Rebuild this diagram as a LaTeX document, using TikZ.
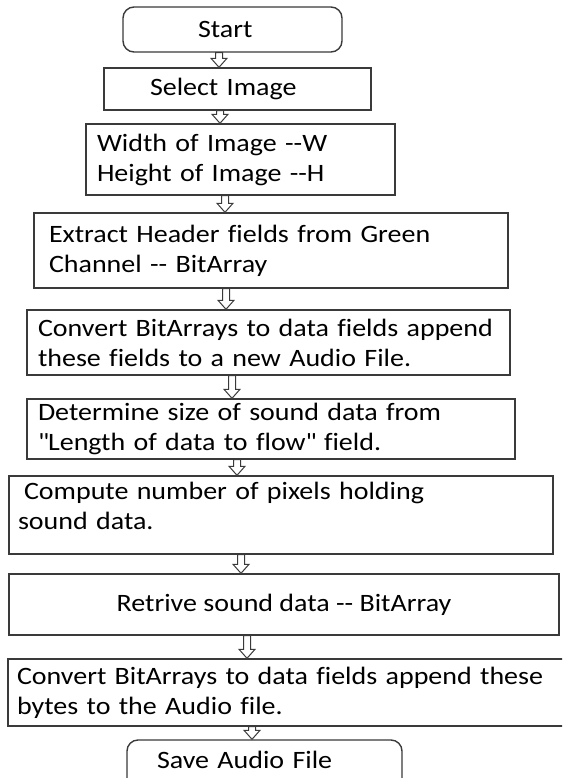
\documentclass[tikz,border=0pt]{standalone}
\usepackage{fontspec}
\setmainfont[FakeStretch=1.12, Ligatures=NoCommon]{Carlito}
\usetikzlibrary{calc}
\definecolor{linec}{HTML}{3A3A3A}
\newcommand{\dd}{-{}-}
% straight double quote, taken as a glyph so no font mapping curls it
\newcommand{\qt}{\XeTeXglyph\XeTeXcharglyph"22\relax}
\tikzset{
  box/.style={draw=linec, line width=1.4pt, inner sep=0pt, fill=white,
    font=\fontsize{25}{30}\selectfont, text=black, align=left},
  term/.style={box, rounded corners=11pt},
  hollow/.style={draw=linec, line width=1pt, fill=white, line join=miter,
    to path={let \p1=(\tikztostart), \p2=(\tikztotarget) in
      (\x1-3.5pt,\y1) -- (\x1-3.5pt,\y2+9pt) -- (\x1-8pt,\y2+9pt) -- (\x1,\y2)
      -- (\x1+8pt,\y2+9pt) -- (\x1+3.5pt,\y2+9pt) -- (\x1+3.5pt,\y1) -- cycle}}
}
\begin{document}
\begin{tikzpicture}[x=1pt,y=-1pt]
\useasboundingbox (0,0) rectangle (562,778);
\clip (0,0) rectangle (562,778);

% process boxes, top to bottom
\node[term, minimum width=219pt, minimum height=45pt, text width=69pt]
  (start) at (232.5,29.5) {\mbox{Start}};
\node[box, minimum width=267pt, minimum height=42pt, text width=175pt]
  (select) at (237.5,89) {\mbox{Select Image}};
\node[box, minimum width=309pt, minimum height=71pt, text width=287pt]
  (wh) at (240.5,159.5) {\mbox{Width of Image \dd W}\\\mbox{Height of Image \dd H}};
\node[box, minimum width=474pt, minimum height=75pt, text width=444pt]
  (extract) at (271,250.5) {\mbox{Extract Header fields from Green}\\\mbox{Channel \dd{} BitArray}};
\node[box, minimum width=483pt, minimum height=65pt, text width=461pt]
  (conv1) at (268.5,342.5) {\mbox{Convert BitArrays to data fields append}\\\mbox{these fields to a new Audio File.}};
\node[box, minimum width=488pt, minimum height=60pt, text width=466pt]
  (determine) at (271,429) {\mbox{Determine size of sound data from}\\\mbox{\qt Length of data to flow\qt{} field.}};
\node[box, minimum width=544pt, minimum height=78pt, text width=526pt]
  (compute) at (281,515) {\mbox{\hspace{6pt}Compute number of pixels holding}\\\mbox{sound data.}\par\vspace{18pt}};
\node[box, minimum width=550pt, minimum height=61pt, align=center]
  (retrieve) at (284,604.5) {Retrive sound data \dd{} BitArray};
\node[box, minimum width=572pt, minimum height=67pt, text width=554pt]
  (conv2) at (294,692.5) {\mbox{Convert BitArrays to data fields append these}\\\mbox{bytes to the Audio file.}};
\node[term, minimum width=275pt, minimum height=60pt, text width=215pt]
  (save) at (264.5,770) {\mbox{Save Audio File}\par\vspace{20pt}};

% hollow block arrows between the steps
\draw[hollow] (start.south -| 219,0) to (select.north -| 219,0);
\draw[hollow] (select.south -| 220,0) to (wh.north -| 220,0);
\draw[hollow] (wh.south -| 225,0) to (extract.north -| 225,0);
\draw[hollow] (extract.south -| 226,0) to (conv1.north -| 226,0);
\draw[hollow] (conv1.south -| 232,0) to (determine.north -| 232,0);
\draw[hollow] (determine.south -| 237,0) to (compute.north -| 237,0);
\draw[hollow] (compute.south -| 241,0) to (retrieve.north -| 241,0);
\draw[hollow] (retrieve.south -| 247,0) to (conv2.north -| 247,0);
\draw[hollow] (conv2.south -| 252,0) to (save.north -| 252,0);
\end{tikzpicture}
\end{document}
